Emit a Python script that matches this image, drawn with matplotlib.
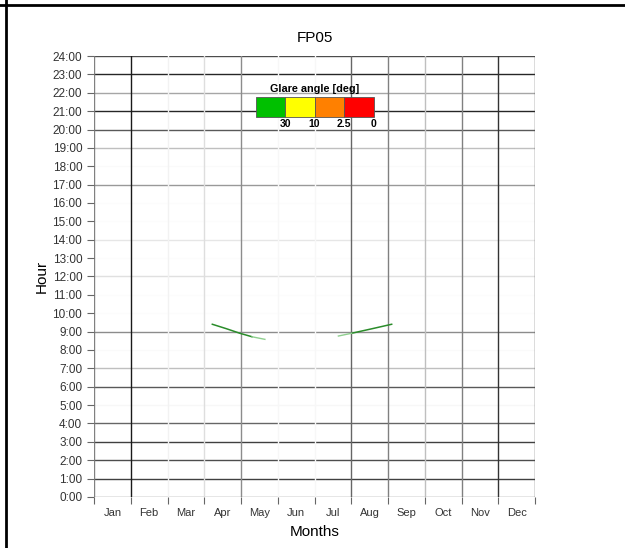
import matplotlib.pyplot as plt
from matplotlib.patches import Rectangle
from matplotlib.lines import Line2D
import numpy as np

plt.rcParams['font.family'] = ['Liberation Sans', 'DejaVu Sans']

months = ['Jan', 'Feb', 'Mar', 'Apr', 'May', 'Jun',
          'Jul', 'Aug', 'Sep', 'Oct', 'Nov', 'Dec']
hour_labels = ['%d:00' % h for h in range(25)]

# glare traces (x in months from 1 Jan, y in hours)
spring_x = [3.22, 3.60, 3.97, 4.30, 4.65]
spring_y = [9.40, 9.16, 8.91, 8.72, 8.58]
autumn_x = [6.65, 7.01, 7.55, 8.10]
autumn_y = [8.76, 8.91, 9.15, 9.40]

# glare angle legend
legend_colors = ['#00c000', '#ffff00', '#ff8000', '#ff0000']
legend_ticks = ['30', '10', '2.5', '0']

# grey level of each grid line (0 black .. 1 white)
hgrid_grey = [0.5, 0.25, 0.3, 0.25, 0.4, 0.97, 0.35, 0.75, 0.98, 0.55,
              0.99, 0.99, 0.88, 0.99, 0.9, 0.99, 0.99, 0.6, 0.98, 0.75,
              0.35, 0.15, 0.65, 0.15, 0.3]
vgrid_grey = [0.5, 0.1, 0.95, 0.87, 0.55, 0.97, 0.97, 0.4, 0.5, 0.75,
              0.5, 0.2, 0.3]

fig = plt.figure(figsize=(6.25, 5.48), dpi=100)
ax = fig.add_axes([0.1504, 0.0931, 0.7056, 0.8047])
ax.set_xlim(0, 12)
ax.set_ylim(0, 24)

for h, g in enumerate(hgrid_grey):
    ax.axhline(h, color=str(g), linewidth=1.0, zorder=1)
for m, g in enumerate(vgrid_grey):
    ax.axvline(m, color=str(g), linewidth=1.0, zorder=1)

# traces, tails drawn lighter
ax.plot(spring_x[:4], spring_y[:4], color='#2a8c2a', linewidth=1.1, zorder=3)
ax.plot(spring_x[3:], spring_y[3:], color='#8fcf8f', linewidth=1.0, zorder=3)
ax.plot(autumn_x[1:], autumn_y[1:], color='#2a8c2a', linewidth=1.1, zorder=3)
ax.plot(autumn_x[:2], autumn_y[:2], color='#8fcf8f', linewidth=1.0, zorder=3)

for s in ax.spines.values():
    s.set_visible(False)

ax.set_yticks(range(25))
ax.set_yticklabels(hour_labels)
ax.set_xticks(range(13))
ax.set_xticklabels([])
ax.set_xticks(np.arange(12) + 0.5, minor=True)
ax.set_xticklabels(months, minor=True)
ax.tick_params(axis='both', which='major', direction='out', length=5,
               color='0.4', labelsize=8.5, labelcolor='#333333')
ax.tick_params(axis='x', which='minor', length=0, labelsize=8,
               labelcolor='#333333', pad=8)

ax.set_title('FP05', fontsize=11, pad=10)
ax.set_xlabel('Months', fontsize=11, labelpad=5)
ax.set_ylabel('Hour', fontsize=11, labelpad=3)

# legend bar in axes coordinates
x0 = (255.5 - 94) / 441
w = (373.7 - 255.5) / 441 / 4
y0 = (497 - 116.7) / 441
hbar = 19.4 / 441
for i, c in enumerate(legend_colors):
    ax.add_patch(Rectangle((x0 + i * w, y0), w, hbar, transform=ax.transAxes,
                           facecolor=c, edgecolor='#555555', linewidth=0.6,
                           zorder=4))
    ax.text(x0 + (i + 1) * w, y0 - 0.006, legend_ticks[i], transform=ax.transAxes,
            ha='center', va='top', fontsize=7.5, fontweight='bold', zorder=5)
ax.text(x0 + 2 * w, y0 + hbar + 0.008, 'Glare angle [deg]', transform=ax.transAxes,
        ha='center', va='bottom', fontsize=7.8, fontweight='bold', zorder=5)

# page border lines
fig.add_artist(Line2D([0, 1], [1 - 4.5 / 548] * 2, color='black', linewidth=2))
fig.add_artist(Line2D([6 / 625] * 2, [0, 1], color='black', linewidth=2))

fig.savefig('out.png', dpi=100)
